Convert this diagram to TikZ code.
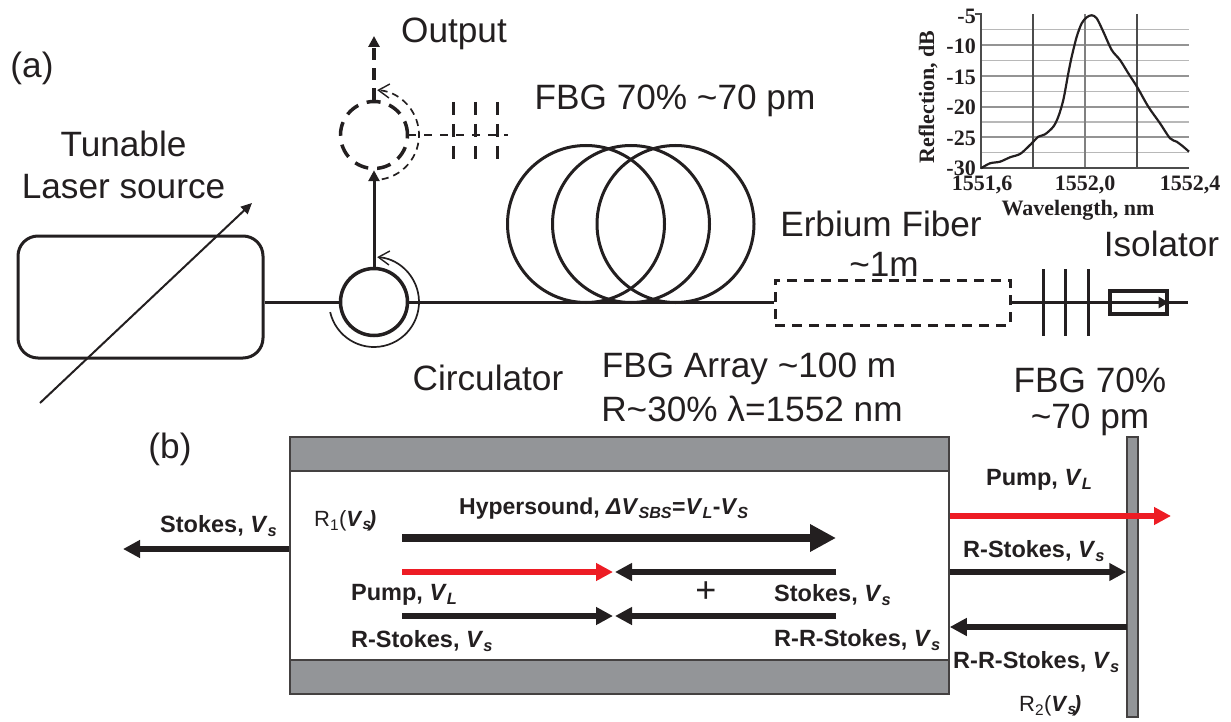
\documentclass[tikz,border=0pt]{standalone}
\usepackage{fontspec}
\setmainfont{Liberation Sans}
\newfontfamily\serifbf[Scale=1]{Liberation Serif}
\usetikzlibrary{arrows.meta,calc}
\definecolor{ink}{HTML}{231F20}
\definecolor{band}{HTML}{939598}
\definecolor{pumpred}{HTML}{ED1C24}
\newcommand{\iv}[2]{\textit{#1}\textsubscript{\textit{#2}}}
\tikzset{
  x=1pt,y=-1pt,
  lab/.style={inner sep=0,font=\fontsize{35.2}{40}\selectfont,text=ink,align=center},
  blab/.style={inner sep=0,font=\fontsize{23.5}{26}\selectfont\bfseries,text=ink,anchor=west},
  rlab/.style={inner sep=0,font=\fontsize{22}{26}\selectfont,text=ink,anchor=west},
  fib/.style={draw=ink,line width=3pt},
  dfib/.style={draw=ink,line width=3.2pt,dash pattern=on 12pt off 8pt},
  thinarc/.style={draw=ink,line width=1.7pt},
  solidhead/.style={-{Triangle[length=11pt,width=11pt]}},
  openhead/.style={-{Straight Barb[length=11pt,width=14pt,line width=1.4pt]}},
  beam/.style={draw=ink,line width=5.7pt,-{Triangle[length=17pt,width=17pt]}},
  redbeam/.style={draw=pumpred,line width=5.7pt,-{Triangle[length=17pt,width=17pt,fill=pumpred]}},
  fat/.style={draw=ink,line width=8pt,-{Triangle[length=26pt,width=26pt]}},
  grid1/.style={draw=black!28,line width=1.3pt},
  grid2/.style={draw=black!42,line width=1.6pt},
  axisline/.style={draw=black!70,line width=1.6pt},
  tick/.style={inner sep=0,font=\fontsize{22}{24}\selectfont\serifbf\bfseries,text=ink},
  coil/.style={circle,draw=ink,line width=3pt,minimum size=157pt,inner sep=0},
  ring/.style={circle,draw=ink,line width=3.5pt,minimum size=67pt,inner sep=0},
  dring/.style={circle,draw=ink,line width=3.5pt,dash pattern=on 14pt off 9pt,minimum size=67pt,inner sep=0},
  grayband/.style={draw=ink!85,fill=band,line width=1.5pt,inner sep=0},
}
\begin{document}
\begin{tikzpicture}[line join=miter]
\useasboundingbox (0,0) rectangle (1231,722);
% ---------- inset plot ----------
\foreach \yy in {45,76,107,137}{\draw[grid2] (981,\yy) -- (1189,\yy);}
\foreach \yy in {29.5,60.5,91.5,122,152.5}{\draw[grid1] (981,\yy) -- (1189,\yy);}
\draw[axisline] (1033,14) -- (1033,168);
\draw[grid2,draw=black!50] (1085,14) -- (1085,168);
\draw[axisline] (1137,14) -- (1137,168);
\draw[axisline] (975,14) -- (981,14) -- (981,168) -- (1189,168);
\draw[draw=ink,line width=2.2pt] plot[smooth,tension=0.5] coordinates {
 (981,168.3) (990,163.3) (1000,161.7) (1010,157.3) (1020,154) (1028.3,146.7) (1033.3,141.7) (1038.3,136.7)
 (1045,134.3) (1053.3,126.7) (1058.3,116.7) (1063.3,100) (1068.3,73.3) (1071.7,56.7) (1076.7,36.7)
 (1081.7,23.3) (1086.7,17.3) (1091.7,15.3) (1096.7,18.3) (1103.3,31.7) (1111.7,50) (1120,60)
 (1128.3,73.3) (1137.3,87.3) (1148.3,106.7) (1160,123.3) (1170,138.3) (1176.7,141.7) (1183.3,146.7) (1189,151.7)};
\node[tick,anchor=east] (ym5) at (976,16) {-5};
\node[tick,anchor=east] (ym10) at (976,46) {-10};
\node[tick,anchor=east] (ym15) at (976,77) {-15};
\node[tick,anchor=east] (ym20) at (976,107) {-20};
\node[tick,anchor=east] (ym25) at (976,138) {-25};
\node[tick,anchor=east] (ym30) at (976,168) {-30};
\node[tick] (x1) at (982,185) {1551,6};
\node[tick] (x2) at (1085,185) {1552,0};
\node[tick] (x3) at (1190,185) {1552,4};
\node[tick] (xt) at (1078,210) {Wavelength, nm};
\node[tick,rotate=90] (yt) at (928,97) {Reflection, dB};
% ---------- (a) ----------
\node[lab] (la) at (32,68) {(a)};
\node[lab] (ltl1) at (123.5,143.5) {Tunable};
\node[lab] (ltl2) at (123.5,187) {Laser source};
\node[lab] (lout) at (454,34) {Output};
\node[lab] (lfbg) at (675,101) {FBG 70\% \textasciitilde70 pm};
\node[lab] (ler1) at (881,224) {Erbium Fiber};
\node[lab] (ler2) at (884,264) {\textasciitilde1m};
\node[lab] (liso) at (1161.5,244) {Isolator};
\node[lab] (lcir) at (488,378) {Circulator};
\node[lab] (larr1) at (749,369) {FBG Array \textasciitilde100 m};
\node[lab] (larr2) at (752,409) {R\textasciitilde30\% λ=1552 nm};
\node[lab] (lf21) at (1090,380) {FBG 70\%};
\node[lab] (lf22) at (1090,420) {\textasciitilde70 pm};
\node[draw=ink,line width=3pt,rounded corners=20pt,minimum width=245pt,minimum height=122pt,inner sep=0] (laser) at (140.5,297) {};
\node[ring] (circ) at (374,302) {};
\node[dring] (dcirc) at (374,135) {};
\node[coil] (c1) at (586,224) {};
\node[coil] (c2) at (631,224) {};
\node[coil] (c3) at (675.5,224) {};
\node[draw=ink,line width=3pt,dash pattern=on 10pt off 7pt,minimum width=235pt,minimum height=45pt,inner sep=0] (er) at (892.5,302.5) {};
\node[draw=ink,line width=3.2pt,minimum width=57pt,minimum height=23pt,inner sep=0] (iso) at (1138.5,302.5) {};
\coordinate (fibEnd) at (1188,302);
\coordinate (dUp) at (374,36);
\coordinate (dLineEnd) at (508,135);
\coordinate (dLineStart) at (408,135);
\draw[fib] (laser.east|-circ.west) -- (circ.west);
\draw[fib] (circ.east) -- (er.west|-circ.east);
\draw[fib] (er.east|-fibEnd) -- (fibEnd);
\draw[fib,solidhead] (circ.north) -- (dcirc.south);
\draw[dfib,solidhead] (dcirc.north) -- (dUp);
\draw[draw=ink,dash pattern=on 8pt off 8pt,line width=1.8pt] (dLineStart) -- (dLineEnd);
\foreach \xx/\nn in {1043/a,1065.5/b,1088/c}{
  \coordinate (g\nn t) at (\xx,269); \coordinate (g\nn b) at (\xx,336);
  \draw[fib] (g\nn t) -- (g\nn b);}
\foreach \xx/\nn in {453/a,475/b,497/c}{
  \coordinate (h\nn t) at (\xx,102); \coordinate (h\nn b) at (\xx,168);
  \draw[draw=ink,line width=3pt,dash pattern=on 13pt off 9pt] (h\nn t) -- (h\nn b);}
\draw[draw=ink,line width=3pt,-{Triangle[length=10pt,width=11pt]}] (iso.west) -- (iso.east);
% circulator swirl arrows (y axis points down: angles run clockwise on the page)
\draw[thinarc,openhead] ($(circ.center)+(167:45)$) arc[start angle=167,end angle=-86,radius=45];
\draw[thinarc,dash pattern=on 7pt off 5pt,openhead] ($(dcirc.center)+(80:45)$) arc[start angle=80,end angle=-86,radius=45];
% tunable arrow
\coordinate (tA) at (40,403);
\coordinate (tB) at (252,203);
\draw[draw=ink,line width=2pt,-{Triangle[length=11pt,width=10pt]}] (tA) -- (tB);
% ---------- (b) ----------
\node[lab] (lb) at (170,449) {(b)};
\node[draw=ink!85,line width=1.5pt,minimum width=659pt,minimum height=257pt,inner sep=0] (body) at (619.5,565.5) {};
\node[grayband,minimum width=659pt,minimum height=34pt] (top) at (619.5,454) {};
\node[grayband,minimum width=659pt,minimum height=34pt] (bot) at (619.5,677) {};
\node[grayband,minimum width=11pt,minimum height=280pt] (mir) at (1132.5,577) {};
\coordinate (hyA) at (402,538); \coordinate (hyB) at (836,538);
\coordinate (rA) at (402,572); \coordinate (mU) at (613,572); \coordinate (mUr) at (615,572); \coordinate (bB) at (836,572);
\coordinate (sA) at (402,616); \coordinate (mD) at (613,616); \coordinate (mDr) at (615,616); \coordinate (sB) at (836,616);
\coordinate (lOut) at (123,549);
\draw[fat] (hyA) -- (hyB);
\draw[redbeam] (rA) -- (mU);
\draw[beam] (bB) -- (mUr);
\draw[beam] (sA) -- (mD);
\draw[beam] (sB) -- (mDr);
\draw[beam] (body.west|-lOut) -- (lOut);
\draw[beam] (body.east|-mUr) -- (mir.west|-mUr);
\coordinate (rr) at (1127,627);
\draw[beam] (rr) -- (body.east|-rr);
\coordinate (pEnd) at (1171,516);
\draw[redbeam] (body.east|-pEnd) -- (pEnd);
\node[lab,font=\fontsize{36}{38}\selectfont] (plus) at (706,592) {+};
\node[blab] (t1) at (160,526) {Stokes, \iv{V}{s}};
\node[rlab] (t2) at (314,521) {R\textsubscript{1}(\textbf{\iv{V}{s}\kern-3pt\textit{)}}};
\node[blab,font=\fontsize{23}{26}\selectfont\bfseries] (t3) at (459,509) {Hypersound, \textit{ΔV}\textsubscript{\textit{SBS}}=\iv{V}{L}-\iv{V}{S}};
\node[blab] (t4) at (351,595) {Pump, \iv{V}{L}};
\node[blab] (t5) at (351,641) {R-Stokes, \iv{V}{s}};
\node[blab] (t6) at (774,595) {Stokes, \iv{V}{s}};
\node[blab] (t7) at (774,640) {R-R-Stokes, \iv{V}{s}};
\node[blab] (t8) at (986,480) {Pump, \iv{V}{L}};
\node[blab] (t9) at (963,551) {R-Stokes, \iv{V}{s}};
\node[blab] (t10) at (953,662) {R-R-Stokes, \iv{V}{s}};
\node[rlab] (t11) at (1019,706) {R\textsubscript{2}(\textbf{\iv{V}{s}\kern-3pt\textit{)}}};
\end{tikzpicture}
\end{document}
